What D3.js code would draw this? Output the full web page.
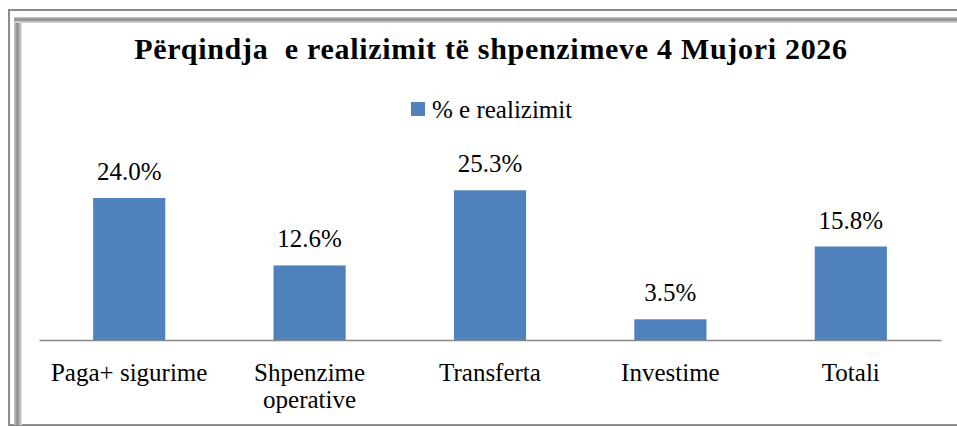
<!DOCTYPE html>
<html>
<head>
<meta charset="utf-8">
<script src="https://cdn.jsdelivr.net/npm/d3@7"></script>
<style>
  body { margin: 0; background: #fff; }
</style>
</head>
<body>
<div id="chart"></div>
<script>
const categories = ["Paga+ sigurime", "Shpenzime operative", "Transferta", "Investime", "Totali"];
const values = [24.0, 12.6, 25.3, 3.5, 15.8];
const seriesName = "% e realizimit";
const title = "Përqindja  e realizimit të shpenzimeve 4 Mujori 2026";

const w = 957, h = 427;
const barColor = "#4F81BD";
const fontFam = "'Liberation Serif'";

const svg = d3.select("#chart").append("svg")
  .attr("width", w).attr("height", h);

/* frame: thin outer line plus a bevelled band */
const defs = svg.append("defs");
const gx = defs.append("linearGradient").attr("id", "bevelX").attr("x1", 0).attr("x2", 1).attr("y1", 0).attr("y2", 0);
gx.append("stop").attr("offset", "0%").attr("stop-color", "#c8c8c8");
gx.append("stop").attr("offset", "45%").attr("stop-color", "#8a8a8a");
gx.append("stop").attr("offset", "100%").attr("stop-color", "#e6e6e6");
const gy = defs.append("linearGradient").attr("id", "bevelY").attr("x1", 0).attr("x2", 0).attr("y1", 0).attr("y2", 1);
gy.append("stop").attr("offset", "0%").attr("stop-color", "#c8c8c8");
gy.append("stop").attr("offset", "45%").attr("stop-color", "#8a8a8a");
gy.append("stop").attr("offset", "100%").attr("stop-color", "#e6e6e6");

svg.append("rect").attr("x", 9).attr("y", 10).attr("width", 980).attr("height", 415)
  .attr("fill", "none").attr("stroke", "#8c8c8c").attr("stroke-width", 2);
svg.append("rect").attr("x", 14).attr("y", 17).attr("width", 8).attr("height", 408).attr("fill", "url(#bevelX)");
svg.append("rect").attr("x", 14).attr("y", 17).attr("width", 960).attr("height", 6).attr("fill", "url(#bevelY)");

/* scales */
const x = d3.scaleBand()
  .domain(categories)
  .range([39, 941])
  .paddingInner(0.6)
  .paddingOuter(0.3);

const y = d3.scaleLinear()
  .domain([0, 30])
  .range([340, 162.5]);

/* title */
svg.append("text")
  .attr("x", 491).attr("y", 59)
  .attr("text-anchor", "middle")
  .attr("font-size", 30).attr("font-weight", "bold")
  .attr("letter-spacing", 0.7)
  .attr("fill", "#000")
  .style("font-family", fontFam)
  .style("white-space", "pre")
  .text(title);

/* legend */
const legend = svg.append("g").attr("transform", "translate(411, 102)");
legend.append("rect").attr("width", 14).attr("height", 14).attr("fill", barColor);
legend.append("text").attr("x", 21).attr("y", 16)
  .attr("font-size", 25).attr("fill", "#000")
  .style("font-family", fontFam)
  .text(seriesName);

/* bars */
svg.selectAll("rect.bar")
  .data(values)
  .enter()
  .append("rect")
  .attr("class", "bar")
  .attr("x", (d, i) => x(categories[i]))
  .attr("y", d => y(d))
  .attr("width", x.bandwidth())
  .attr("height", d => y(0) - y(d))
  .attr("fill", barColor);

/* value labels */
svg.selectAll("text.val")
  .data(values)
  .enter()
  .append("text")
  .attr("class", "val")
  .attr("x", (d, i) => x(categories[i]) + x.bandwidth() / 2)
  .attr("y", d => y(d) - 18)
  .attr("text-anchor", "middle")
  .attr("font-size", 25)
  .attr("fill", "#000")
  .style("font-family", fontFam)
  .text(d => d.toFixed(1) + "%");

/* x axis */
const xAxis = d3.axisBottom(x).tickSize(0).tickSizeOuter(0);
const axisG = svg.append("g")
  .attr("transform", "translate(0," + y(0) + ")")
  .call(xAxis);
axisG.select(".domain").attr("stroke", "#868686").attr("stroke-width", 1.5);
axisG.selectAll(".tick text").remove();

/* category labels, wrapped like the original */
const labelLines = { "Shpenzime operative": ["Shpenzime", "operative"] };
categories.forEach(c => {
  const lines = labelLines[c] || [c];
  const t = svg.append("text")
    .attr("x", x(c) + x.bandwidth() / 2)
    .attr("y", 381)
    .attr("text-anchor", "middle")
    .attr("font-size", 25)
    .attr("fill", "#000")
    .style("font-family", fontFam);
  lines.forEach((l, i) => {
    t.append("tspan")
      .attr("x", x(c) + x.bandwidth() / 2)
      .attr("dy", i === 0 ? 0 : 27)
      .text(l);
  });
});
</script>
</body>
</html>
